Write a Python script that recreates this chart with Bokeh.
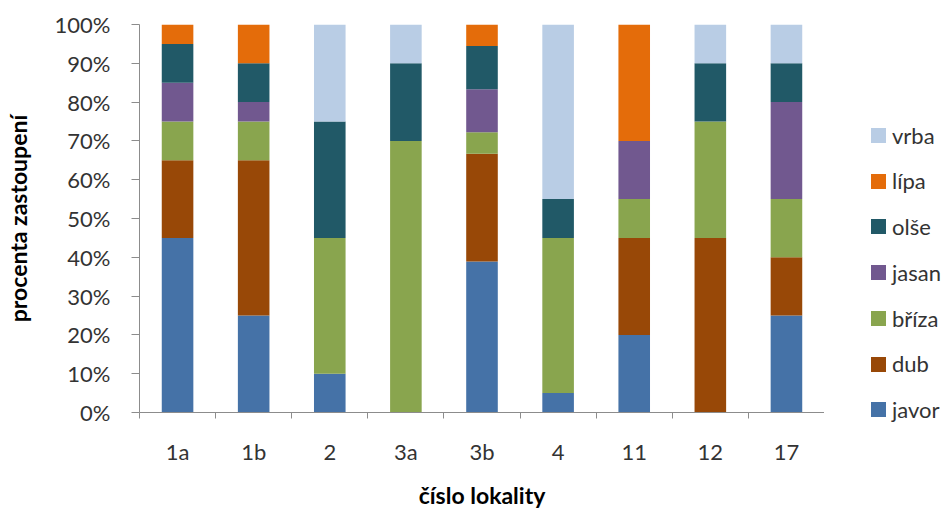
from bokeh.plotting import figure
from bokeh.layouts import row
from bokeh.models import (ColumnDataSource, Range1d, FixedTicker, PrintfTickFormatter, Div)
from bokeh.embed import file_html
from bokeh.resources import INLINE

# Locality labels and species shares (percent of trees at each locality)
lokality = ["1a", "1b", "2", "3a", "3b", "4", "11", "12", "17"]
javor = [45, 25, 10, 0, 38.89, 5, 20, 0, 25]
dub = [20, 40, 0, 0, 27.78, 0, 25, 45, 15]
briza = [10, 10, 35, 70, 5.56, 40, 10, 30, 15]
jasan = [10, 5, 0, 0, 11.11, 0, 15, 0, 25]
olse = [10, 10, 30, 20, 11.11, 10, 0, 15, 10]
lipa = [5, 10, 0, 0, 5.56, 0, 30, 0, 0]
vrba = [0, 0, 25, 10, 0, 45, 0, 10, 10]

druhy = ["javor", "dub", "bříza", "jasan", "olše", "lípa", "vrba"]
barvy = ["#4572A7", "#984807", "#89A54E", "#71588F", "#215967", "#E46C0A", "#B9CDE5"]
y_ticks = [0, 10, 20, 30, 40, 50, 60, 70, 80, 90, 100]

FONT = "Lato"
TICK_COLOR = "#333333"
AXIS_COLOR = "#8C8C8C"
BAR_WIDTH = 0.415

n = len(lokality)
centers = [i + 0.5 for i in range(n)]
bounds = [float(i) for i in range(n + 1)]

data = {"x": centers}
for name, vals in zip(druhy, [javor, dub, briza, jasan, olse, lipa, vrba]):
    data[name] = vals
source = ColumnDataSource(data)

p = figure(width=824, height=511, output_backend="svg", toolbar_location=None,
           x_range=Range1d(0, n), y_range=Range1d(0, 100),
           min_border_left=137, min_border_right=0, min_border_top=24,
           min_border_bottom=99)
p.outline_line_color = None
p.grid.visible = False
p.background_fill_color = "white"
p.border_fill_color = "white"

p.vbar_stack(druhy, x="x", width=BAR_WIDTH, source=source,
             color=barvy, line_color=None)

# x axis: labels at category centres, ticks at category boundaries
xa = p.xaxis[0]
xa.ticker = FixedTicker(ticks=centers, minor_ticks=bounds)
xa.major_label_overrides = {c: lab for c, lab in zip(centers, lokality)}
xa.major_tick_line_color = None
xa.major_tick_in = 0
xa.major_tick_out = 0
xa.minor_tick_line_color = AXIS_COLOR
xa.minor_tick_in = 0
xa.minor_tick_out = 6
xa.axis_line_color = AXIS_COLOR
xa.major_label_standoff = 19
xa.major_label_text_font = FONT
xa.major_label_text_font_size = "22px"
xa.major_label_text_color = TICK_COLOR
xa.axis_label = "číslo lokality"
xa.axis_label_text_font = FONT
xa.axis_label_text_font_style = "bold"
xa.axis_label_text_font_size = "23px"
xa.axis_label_text_color = "black"
xa.axis_label_standoff = 13

ya = p.yaxis[0]
ya.ticker = FixedTicker(ticks=y_ticks)
ya.formatter = PrintfTickFormatter(format="%d%%")
ya.major_tick_in = 0
ya.major_tick_out = 8
ya.major_tick_line_color = AXIS_COLOR
ya.minor_tick_line_color = None
ya.axis_line_color = AXIS_COLOR
ya.major_label_standoff = 21
ya.major_label_text_font = FONT
ya.major_label_text_font_size = "22px"
ya.major_label_text_color = TICK_COLOR
ya.axis_label = "procenta zastoupení"
ya.axis_label_text_font = FONT
ya.axis_label_text_font_style = "bold"
ya.axis_label_text_font_size = "23px"
ya.axis_label_text_color = "black"
ya.axis_label_standoff = 20

# legend column to the right of the chart, last stacked series on top
LEG_LEFT = 42
LEG_FIRST = 130.5
LEG_STEP = 45.7
entries = []
for i, (name, col) in enumerate(zip(druhy[::-1], barvy[::-1])):
    cy = LEG_FIRST + i * LEG_STEP
    entries.append(
        f'<div style="position:absolute;left:{LEG_LEFT}px;top:{cy - 13:.1f}px;height:26px;'
        f'display:flex;align-items:center;white-space:nowrap;">'
        f'<span style="display:inline-block;width:15px;height:15px;background:{col};'
        f'margin-right:6px;"></span><span>{name}</span></div>')
legend_html = (f'<div style="position:relative;width:118px;height:511px;'
               f'font-family:{FONT};font-size:22px;color:{TICK_COLOR};background:white;">'
               + "".join(entries) + "</div>")
legend = Div(text=legend_html, width=118, height=511)

layout = row(p, legend)
open("out.html", "w").write(file_html(layout, INLINE))
